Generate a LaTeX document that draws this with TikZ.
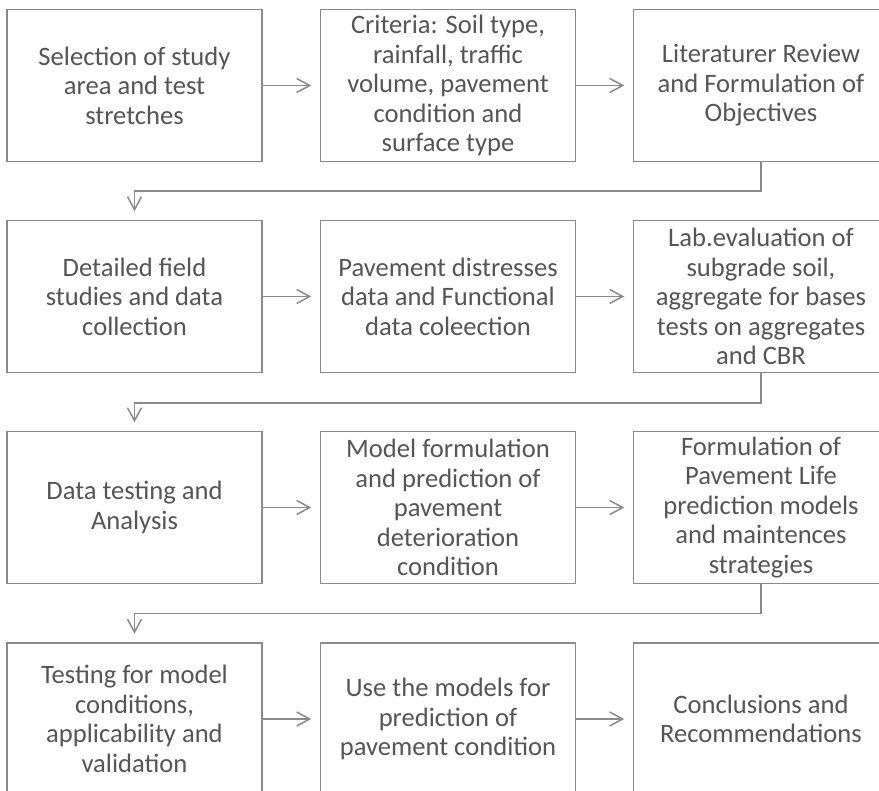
\documentclass[tikz,border=0pt]{standalone}
\usepackage{fontspec}
\setmainfont{Carlito}
\usetikzlibrary{arrows.meta,calc}
\definecolor{edge}{HTML}{8A8A8A}
\definecolor{ink}{HTML}{555555}
\begin{document}
\begin{tikzpicture}[x=1pt,y=-1pt,
  stepbox/.style={draw=edge, line width=1.5pt, fill=white, minimum width=255pt,
    minimum height=152pt, inner sep=0pt, align=center, text=ink,
    font=\fontsize{26.6}{29.5}\selectfont},
  arr/.style={draw=edge, line width=1.5pt,
    -{Straight Barb[length=13pt,width=14pt,line width=1.5pt]}, shorten >=8.5pt}]
\useasboundingbox (0,0) rectangle (879,791);
\clip (0,0) rectangle (879,791);
\fill[white] (0,0) rectangle (879,791);

% row 1
\node[stepbox] (a1) at (134.5,85.5) {Selection of study\\area and test\\stretches};
\node[stepbox] (a2) at (448,85.5) {Criteria: Soil type,\\rainfall, traffic\\volume, pavement\\condition and\\surface type};
\node[stepbox] (a3) at (761,85.5) {Literaturer Review\\and Formulation of\\Objectives};
% row 2
\node[stepbox] (b1) at (134.5,296.5) {Detailed field\\studies and data\\collection};
\node[stepbox] (b2) at (448,296.5) {Pavement distresses\\data and Functional\\data coleection};
\node[stepbox] (b3) at (761,296.5) {Lab.evaluation of\\subgrade soil,\\aggregate for bases\\tests on aggregates\\and CBR};
% row 3
\node[stepbox] (c1) at (134.5,507.5) {Data testing and\\Analysis};
\node[stepbox] (c2) at (448,507.5) {Model formulation\\and prediction of\\pavement\\deterioration\\condition};
\node[stepbox] (c3) at (761,507.5) {Formulation of\\Pavement Life\\prediction models\\and maintences\\strategies};
% row 4
\node[stepbox] (d1) at (134.5,719) {Testing for model\\conditions,\\applicability and\\validation};
\node[stepbox] (d2) at (448,719) {Use the models for\\prediction of\\pavement condition};
\node[stepbox] (d3) at (761,719) {Conclusions and\\Recommendations};

% arrows within rows
\draw[arr] (a1) -- (a2);
\draw[arr] (a2) -- (a3);
\draw[arr] (b1) -- (b2);
\draw[arr] (b2) -- (b3);
\draw[arr] (c1) -- (c2);
\draw[arr] (c2) -- (c3);
\draw[arr] (d1) -- (d2);
\draw[arr] (d2) -- (d3);

% return connectors between rows
\coordinate (k1) at ($(a3.south)+(0,29)$);
\coordinate (k2) at ($(b3.south)+(0,30)$);
\coordinate (k3) at ($(c3.south)+(0,29)$);
\draw[arr] (a3.south) -- (k1) -| (b1.north);
\draw[arr] (b3.south) -- (k2) -| (c1.north);
\draw[arr] (c3.south) -- (k3) -| (d1.north);
\end{tikzpicture}
\end{document}
